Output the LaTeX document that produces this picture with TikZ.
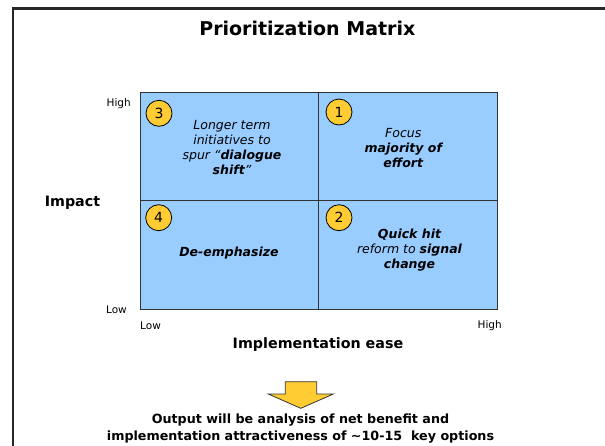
\documentclass[tikz,border=0pt]{standalone}
\usepackage{fontspec}
\setmainfont{DejaVu Sans}
\usepackage{xcolor}
\usetikzlibrary{positioning}

\definecolor{cellblue}{HTML}{99CCFF}
\definecolor{dotgold}{HTML}{FFCC33}
\definecolor{edgegray}{HTML}{333333}

\tikzset{
	cellbox/.style={draw=edgegray,fill=cellblue,line width=1pt,
		minimum width=178.5pt,minimum height=108.5pt,
		inner sep=0pt,outer sep=0pt},
	celltext/.style={align=center,inner sep=0pt,
		font=\fontsize{12.5}{15}\selectfont\itshape},
	numdot/.style={circle,draw=black,fill=dotgold,line width=0.8pt,
		minimum size=26pt,inner sep=0pt,
		font=\fontsize{14}{14}\selectfont},
	axislabel/.style={inner sep=0pt,font=\fontsize{10.5}{12}\selectfont},
	boldlabel/.style={inner sep=0pt,align=center,
		font=\fontsize{14.3}{16.7}\selectfont\bfseries},
}

\begin{document}
\begin{tikzpicture}[x=1pt,y=-1pt]
		
		\useasboundingbox (0,0) rectangle (605,445);
		\clip (0,0) rectangle (605,445);
		
		% outer frame, runs off the page on the right and bottom
		\draw[black!85,line width=2.6pt]
		(13,8.5) rectangle (640,480);
		
		\node[inner sep=0pt,font=\fontsize{19}{22}\selectfont\bfseries]
		(title) at (307.3,28.3)
		{Prioritization Matrix};
		
		% the four quadrants
		\node[cellbox] (q3) at (229.25,146.25) {};
		\node[cellbox,right=0pt of q3] (q1) {};
		\node[cellbox,below=0pt of q3] (q4) {};
		\node[cellbox,right=0pt of q4] (q2) {};
		
		\node[numdot] (n3) at (159,113.3) {3};
		\node[numdot] (n1) at (339,112) {1};
		\node[numdot] (n4) at (158.7,217.7) {4};
		\node[numdot] (n2) at (339,217.7) {2};
		
		\node[celltext] (t3) at (232,148)
		{Longer term\\initiatives to\\spur “\textbf{dialogue}\\\textbf{shift}”};
		
		\node[celltext] (t1) at (403.3,148.5)
		{Focus\\\textbf{majority of}\\\textbf{effort}};
		
		\node[celltext] (t4) at (229,253)
		{\textbf{De-emphasize}};
		
		\node[celltext] (t2) at (409.5,250)
		{\textbf{Quick hit}\\reform to \textbf{signal}\\\textbf{change}};
		
		% axis ends
		\node[axislabel,anchor=east]
		(yhigh) at (131,104)
		{High};
		
		\node[axislabel,anchor=east]
		(ylow) at (127,310)
		{Low};
		
		\node[axislabel,anchor=west]
		(xlow) at (140,326)
		{Low};
		
		\node[axislabel,anchor=east]
		(xhigh) at (502,326)
		{High};
		
		\node[boldlabel]
		(impact) at (72.5,203)
		{Impact};
		
		\node[boldlabel]
		(ease) at (318,345)
		{Implementation ease};
		
		% down arrow to the summary
		\filldraw[fill=dotgold,draw=edgegray,line width=0.8pt]
		(285.3,381.7) -- (316.7,381.7) -- (316.7,394)
		-- (333.3,394) -- (300.8,408.3) -- (268.3,394)
		-- (285.3,394) -- cycle;
		
		\node[boldlabel,font=\fontsize{12.7}{16.7}\selectfont\bfseries]
		(output) at (300.5,428.3)
		{Output will be analysis of net benefit and\\
			implementation attractiveness of \textasciitilde10-15\ \ key options};
		
	\end{tikzpicture}
\end{document}
